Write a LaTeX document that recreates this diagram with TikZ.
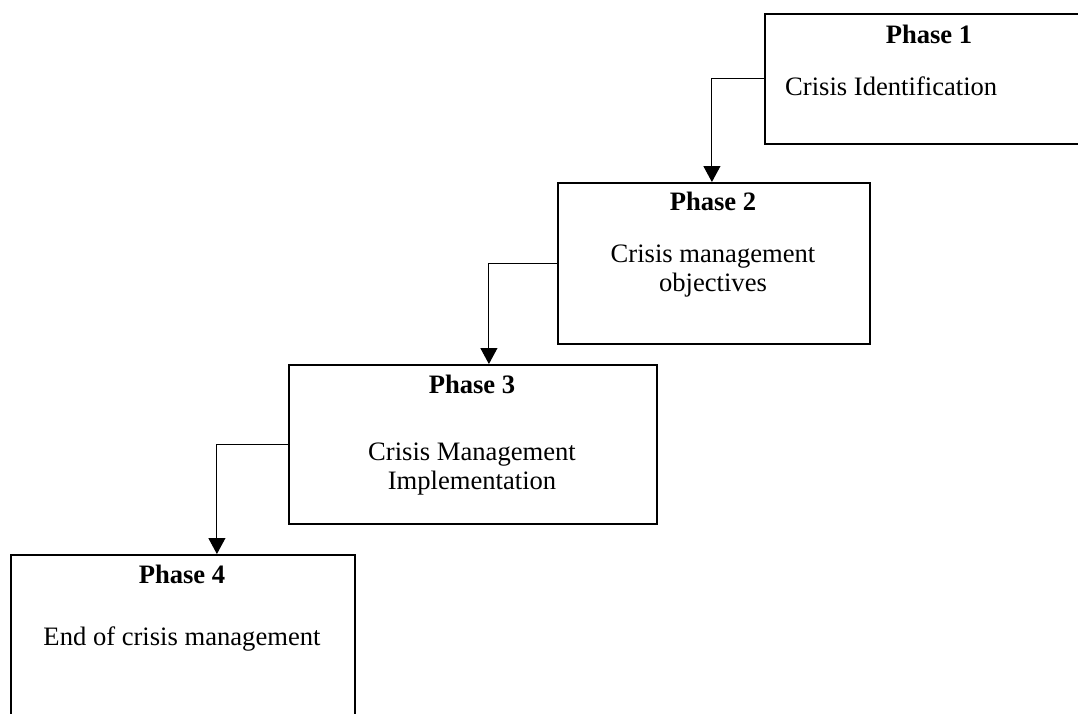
\documentclass[tikz,border=0pt]{standalone}
\usepackage{fontspec}
\setmainfont{Liberation Serif}
\usetikzlibrary{arrows.meta}

\begin{document}
\begin{tikzpicture}[x=1pt,y=-1pt,
    phasebox/.style={draw, line width=1.8pt, rectangle, anchor=north west, inner sep=0pt},
    phasehead/.style={font=\fontsize{26.6pt}{28pt}\selectfont\bfseries, anchor=base, inner sep=0pt},
    phasetext/.style={font=\fontsize{26.6pt}{28.5pt}\selectfont, inner sep=0pt, align=center},
    link/.style={line width=1.1pt, -{Triangle[length=16pt,width=17pt]}}]

\clip (0,0) rectangle (1078,713);

\node[phasebox, minimum width=330pt, minimum height=130pt] (p1) at (764,13) {};
\node[phasebox, minimum width=312pt, minimum height=161pt] (p2) at (557,182) {};
\node[phasebox, minimum width=368pt, minimum height=159pt] (p3) at (288,364) {};
\node[phasebox, minimum width=344pt, minimum height=200pt] (p4) at (10,554) {};

\node[phasehead] (h1) at (929,43) {Phase 1};
\node[phasehead] (h2) at (713,210) {Phase 2};
\node[phasehead] (h3) at (472,393) {Phase 3};
\node[phasehead] (h4) at (182,583) {Phase 4};

\node[phasetext, anchor=base west] (t1) at (785,95) {Crisis Identification};
\node[phasetext, anchor=north] (t2) at (713,245) {Crisis management\\objectives};
\node[phasetext, anchor=north] (t3) at (472,443) {Crisis Management\\Implementation};
\node[phasetext, anchor=base] (t4) at (182,645) {End of crisis management};

\draw[link] (p1.west) -| ([xshift=-2pt]p2.north);
\draw[link] (p2.west) -| ([xshift=16pt]p3.north);
\draw[link] (p3.west) -| ([xshift=34pt]p4.north);

\end{tikzpicture}
\end{document}
